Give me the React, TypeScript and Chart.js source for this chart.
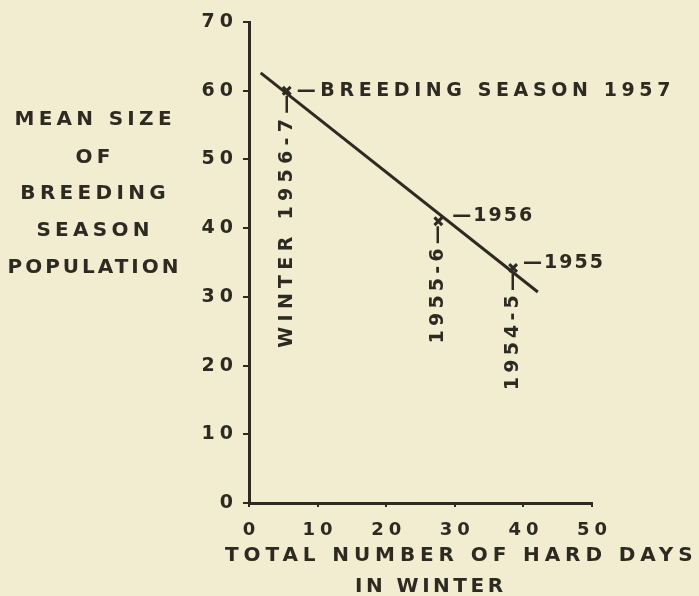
import { useEffect, useRef } from 'react';
import { Chart, registerables } from 'chart.js';

Chart.register(...registerables);

// ---- data ----
const hardDays = [5.5, 27.6, 38.5];
const meanSize = [60, 41, 34.2];
const winterLabels = ['WINTER 1956-7—', '1955-6—', '1954-5—'];
const seasonLabels = ['—BREEDING SEASON 1957', '—1956', '—1955'];
const fitX = [1.7, 42.1];
const fitY = [62.6, 30.7];
const xTickValues = [0, 10, 20, 30, 40, 50];
const yTickValues = [0, 10, 20, 30, 40, 50, 60, 70];
const yTitleLines = ['MEAN SIZE', 'OF', 'BREEDING', 'SEASON', 'POPULATION'];
const xTitleLines = ['TOTAL NUMBER OF HARD DAYS', 'IN WINTER'];

const INK = '#2e2a22';
const BG = '#f2edd0';
const FAMILY = '"DejaVu Sans", sans-serif';
const TICK_SPACING = 5;

function drawSpaced(
  ctx: CanvasRenderingContext2D,
  text: string,
  x: number,
  y: number,
  size: number,
  spacing: number,
  align: CanvasTextAlign,
  rotate = false
) {
  ctx.save();
  (ctx as any).letterSpacing = spacing + 'px';
  ctx.font = `bold ${size}px ${FAMILY}`;
  ctx.fillStyle = INK;
  ctx.textBaseline = 'middle';
  ctx.textAlign = align;
  ctx.translate(x, y);
  if (rotate) ctx.rotate(-Math.PI / 2);
  let dx = 0;
  if (align === 'center') dx = spacing / 2;
  if (align === 'right') dx = spacing;
  ctx.fillText(text, dx, 0);
  ctx.restore();
}

const bgPlugin = {
  id: 'bg',
  beforeDraw(chart: any) {
    const ctx = chart.ctx as CanvasRenderingContext2D;
    ctx.save();
    ctx.fillStyle = BG;
    ctx.fillRect(0, 0, chart.width, chart.height);
    ctx.restore();
    (ctx as any).letterSpacing = TICK_SPACING + 'px';
  },
};

const annotatePlugin = {
  id: 'annotate',
  afterDraw(chart: any) {
    const ctx = chart.ctx as CanvasRenderingContext2D;
    const xs = chart.scales.x;
    const ys = chart.scales.y;
    const yOffsets = [0, -5, -5];
    const xOffsets = [10, 14, 10];
    hardDays.forEach((d, i) => {
      const px = xs.getPixelForValue(d);
      const py = ys.getPixelForValue(meanSize[i]);
      drawSpaced(ctx, seasonLabels[i], px + xOffsets[i], py + yOffsets[i], 19, i === 0 ? 4.6 : 2, 'left');
      drawSpaced(ctx, winterLabels[i], px, py + 4, 19, i === 0 ? 5.3 : 4.2, 'right', true);
    });
    // y title (horizontal, multi-line)
    const yCenters = [120, 158, 194, 231, 268];
    yTitleLines.forEach((t, i) => drawSpaced(ctx, t, 93, yCenters[i], 20, i === 4 ? 3 : 4.3, 'center'));
    // x title
    drawSpaced(ctx, xTitleLines[0], 225, 556, 20, 4.9, 'left');
    drawSpaced(ctx, xTitleLines[1], 429, 587, 20, 3.5, 'center');
  },
};

export default function App() {
  const ref = useRef<HTMLCanvasElement>(null);
  useEffect(() => {
    document.body.style.margin = '0';
    document.body.style.background = BG;
    const canvas = ref.current!;
    const chart = new Chart(canvas, {
      type: 'scatter',
      data: {
        datasets: [
          {
            type: 'line',
            data: fitX.map((x, i) => ({ x, y: fitY[i] })),
            borderColor: INK,
            borderWidth: 3,
            pointRadius: 0,
            showLine: true,
            fill: false,
            tension: 0,
          } as any,
          {
            data: hardDays.map((x, i) => ({ x, y: meanSize[i] })),
            pointStyle: 'crossRot',
            pointRadius: 5.5,
            borderColor: INK,
            backgroundColor: INK,
            borderWidth: 3,
          },
        ],
      },
      options: {
        responsive: false,
        animation: false,
        devicePixelRatio: 1,
        layout: { padding: { top: 22, right: 107, left: 0, bottom: 0 } },
        plugins: {
          legend: { display: false },
          tooltip: { enabled: false },
          title: { display: false },
        },
        scales: {
          x: {
            type: 'linear',
            min: 0,
            max: 50,
            afterBuildTicks: (s: any) => {
              s.ticks = xTickValues.map((v) => ({ value: v }));
            },
            ticks: {
              color: INK,
              font: { family: FAMILY, size: 18, weight: 'bold' },
              padding: 13,
              labelOffset: TICK_SPACING / 2,
              maxRotation: 0,
              autoSkip: false,
            },
            grid: {
              drawOnChartArea: false,
              drawTicks: true,
              tickLength: 4,
              color: INK,
              lineWidth: 2,
            },
            border: { display: true, color: INK, width: 3 },
            afterFit: (s: any) => {
              s.height = 93;
            },
          },
          y: {
            type: 'linear',
            min: 0,
            max: 70,
            afterBuildTicks: (s: any) => {
              s.ticks = yTickValues.map((v) => ({ value: v }));
            },
            ticks: {
              color: INK,
              font: { family: FAMILY, size: 19, weight: 'bold' },
              padding: 10 - TICK_SPACING,
              autoSkip: false,
            },
            grid: {
              drawOnChartArea: false,
              drawTicks: true,
              tickLength: 6,
              color: INK,
              lineWidth: 2,
            },
            border: { display: true, color: INK, width: 3 },
            afterFit: (s: any) => {
              s.width = 249;
            },
          },
        },
      },
      plugins: [bgPlugin, annotatePlugin],
    } as any);
    return () => chart.destroy();
  }, []);
  return (
    <div style={{ position: 'absolute', left: 0, top: 0, width: 699, height: 596 }}>
      <canvas ref={ref} width={699} height={596} />
    </div>
  );
}
